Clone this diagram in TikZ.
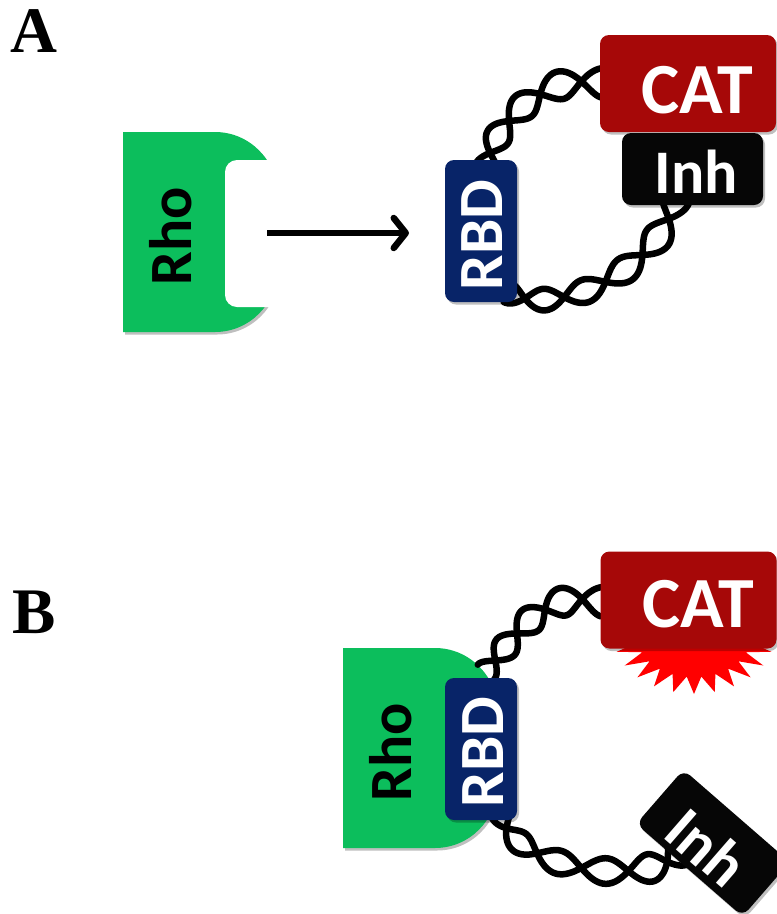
\documentclass[tikz,border=0pt]{standalone}
\usepackage{fontspec}
\newfontfamily\calfont{Carlito}
\newfontfamily\labfont{Liberation Serif}
\usetikzlibrary{arrows.meta,shadows}
\definecolor{rhogreen}{RGB}{12,190,92}
\definecolor{rbdblue}{RGB}{8,36,104}
\definecolor{catred}{RGB}{166,8,8}
\definecolor{inhblack}{RGB}{6,6,6}
\definecolor{burst}{RGB}{255,0,0}
\newcommand\lbl[1]{\calfont\bfseries\fontsize{#1}{#1}\selectfont}
\def\hA{11}\def\hB{15}
% twisted pair of strands along a cubic Bezier: x0 y0 x1 y1 x2 y2 x3 y3 halftwists
\newcommand\helix[9]{%
\begin{scope}[declare function={
  hx(\t)=(1-\t)^3*(#1)+3*(1-\t)^2*\t*(#3)+3*(1-\t)*\t^2*(#5)+\t^3*(#7);
  hy(\t)=(1-\t)^3*(#2)+3*(1-\t)^2*\t*(#4)+3*(1-\t)*\t^2*(#6)+\t^3*(#8);
  hdx(\t)=3*(1-\t)^2*((#3)-(#1))+6*(1-\t)*\t*((#5)-(#3))+3*\t^2*((#7)-(#5));
  hdy(\t)=3*(1-\t)^2*((#4)-(#2))+6*(1-\t)*\t*((#6)-(#4))+3*\t^2*((#8)-(#6));
  hl(\t)=veclen(hdx(\t),hdy(\t));
  ha(\t)=(\hA+(\hB-\hA)*\t)*cos(180*#9*\t);
}]
\foreach \s in {1,-1}{
  \draw[strand] plot[variable=\t,domain=0:1,samples=100,smooth]
   ({hx(\t)-\s*ha(\t)*hdy(\t)/hl(\t)},{hy(\t)+\s*ha(\t)*hdx(\t)/hl(\t)});
}
\end{scope}}
\newcommand\rhoshape{%
\fill[rhogreen, shad] (123,332) -- (123,132) -- (215,132)
  .. controls (249.2,132) and (277,159.8) .. (277,194) -- (277,270)
  .. controls (277,304.2) and (249.2,332) .. (215,332) -- cycle;}
\tikzset{
  shad/.style={drop shadow={shadow xshift=2pt,shadow yshift=-2.5pt,opacity=.25,fill=black}},
  domain box/.style={shad, rounded corners=9pt, inner sep=0pt},
  rbdbox/.style={domain box, fill=rbdblue, minimum width=72pt, minimum height=142pt},
  catbox/.style={domain box, fill=catred, minimum width=176pt, minimum height=97pt},
  inhbox/.style={domain box, fill=inhblack, minimum width=141pt, minimum height=72pt},
  boxtext/.style={text=white, inner sep=0pt},
  strand/.style={line width=6.5pt, black, line cap=round, line join=round},
  panel label/.style={font=\labfont\bfseries\fontsize{65}{65}\selectfont, inner sep=0pt, anchor=base west},
  rhotext/.style={font=\lbl{60}, rotate=90, inner sep=0pt},
  reaction arrow/.style={line width=6.5pt, -{Straight Barb[length=12pt,width=30pt,line cap=round,line join=round]}},
}
\begin{document}
\begin{tikzpicture}[x=1pt,y=-1pt]
\path[use as bounding box] (0,0) rectangle (777,914);
% ---------------- panel A ----------------
\node[panel label] (labA) at (10,52) {A};
\rhoshape
\fill[white, rounded corners=12pt] (225,160) rectangle (312,307);
\node[rhotext] (rhoAt) at (171,236) {Rho};
\coordinate (arrS) at (267,233);
\coordinate (arrE) at (409,233);
\draw[reaction arrow] (arrS) -- (arrE);
\def\hA{11}\def\hB{15}
\helix{486}{168}{492}{130}{540}{70}{605}{83}{4}
\def\hA{10}\def\hB{14}
\helix{508}{293}{560}{318}{660}{270}{676}{198}{5}
\node[rbdbox] (rbdA) at (481,231) {};
\node[boxtext, font=\lbl{63}, rotate=90] (rbdAt) at (482,235) {RBD};
\node[catbox] (catA) at (688,83.5) {};
\node[boxtext, font=\lbl{72}] (catAt) at (697,90) {CAT};
\node[inhbox] (inhA) at (692.5,169) {};
\node[boxtext, font=\lbl{62}] (inhAt) at (696,172) {Inh};
% ---------------- panel B ----------------
\node[panel label] (labB) at (12,633) {B};
\begin{scope}[shift={(220,516)}]
\rhoshape
\node[rhotext] (rhoBt) at (171,236) {Rho};
\end{scope}
\def\hA{11}\def\hB{15}
\helix{486}{672}{510}{645}{540}{585}{605}{602}{4}
\def\hA{9.5}\def\hB{15}
\helix{500}{812}{510}{870}{647}{890}{680}{852}{5}
\fill[burst] (694,694)
  \foreach \k in {1,...,47}{
    -- ({694+80*(0.85+0.15*cos(180*\k))*cos(90+\k*7.5)},
        {637+57*(0.85+0.15*cos(180*\k))*sin(90+\k*7.5)})
  } -- cycle;
\node[rbdbox] (rbdB) at (481,749) {};
\node[boxtext, font=\lbl{63}, rotate=90] (rbdBt) at (483,752) {RBD};
\node[catbox] (catB) at (688.5,600) {};
\node[boxtext, font=\lbl{72}] (catBt) at (698,604) {CAT};
\node[inhbox, rotate=-41] (inhB) at (713,843) {};
\node[boxtext, font=\lbl{62}, rotate=-41] (inhBt) at (707,847) {Inh};
\end{tikzpicture}
\end{document}
